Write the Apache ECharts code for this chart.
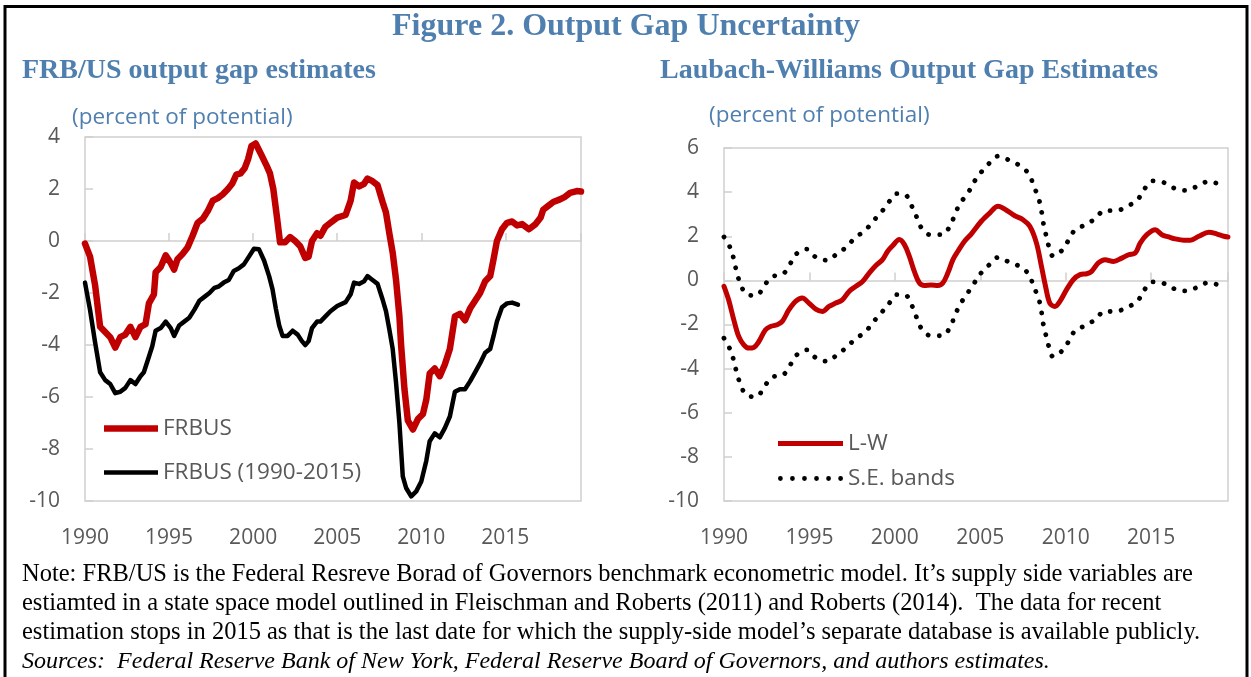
<!DOCTYPE html>
<html><head><meta charset="utf-8">
<script src="https://cdn.jsdelivr.net/npm/echarts@6/dist/echarts.min.js"></script>
<style>html,body{margin:0;padding:0;background:#fff;}#c{width:1251px;height:677px;}</style>
</head><body><div id="c"></div>
<script>
// ---- data ----
const xTicks = [1990, 1995, 2000, 2005, 2010, 2015];
const leftYTicks = [-10, -8, -6, -4, -2, 0, 2, 4];
const rightYTicks = [-10, -8, -6, -4, -2, 0, 2, 4, 6];

const frbus = [[1990.0,-0.1],[1990.3,-0.6],[1990.6,-1.7],[1990.9,-3.3],[1991.2,-3.5],[1991.5,-3.7],[1991.8,-4.1],[1992.1,-3.7],[1992.4,-3.6],[1992.7,-3.3],[1993.0,-3.7],[1993.3,-3.3],[1993.6,-3.2],[1993.8,-2.4],[1994.1,-2.05],[1994.2,-1.2],[1994.5,-1.0],[1994.8,-0.55],[1995.1,-0.85],[1995.3,-1.1],[1995.5,-0.7],[1995.8,-0.5],[1996.1,-0.25],[1996.4,0.2],[1996.7,0.7],[1997.0,0.85],[1997.3,1.15],[1997.6,1.55],[1997.9,1.65],[1998.2,1.8],[1998.5,2.0],[1998.75,2.2],[1999.0,2.55],[1999.25,2.6],[1999.5,2.8],[1999.7,3.15],[1999.9,3.65],[2000.15,3.75],[2000.5,3.3],[2000.8,2.9],[2001.0,2.6],[2001.2,2.0],[2001.4,1.0],[2001.6,-0.05],[2001.9,-0.05],[2002.2,0.15],[2002.5,0.0],[2002.8,-0.2],[2003.1,-0.65],[2003.3,-0.6],[2003.5,0.0],[2003.8,0.3],[2004.0,0.2],[2004.3,0.55],[2004.6,0.7],[2005.0,0.9],[2005.5,1.0],[2005.8,1.55],[2006.0,2.25],[2006.3,2.1],[2006.6,2.2],[2006.8,2.4],[2007.1,2.3],[2007.4,2.15],[2007.7,1.5],[2007.9,1.1],[2008.1,0.3],[2008.3,-0.45],[2008.5,-1.5],[2008.7,-2.9],[2008.8,-4.0],[2009.0,-5.7],[2009.2,-6.9],[2009.5,-7.25],[2009.8,-6.85],[2010.1,-6.65],[2010.3,-6.1],[2010.5,-5.1],[2010.8,-4.9],[2011.1,-5.2],[2011.4,-4.75],[2011.7,-4.15],[2012.0,-2.9],[2012.3,-2.8],[2012.6,-3.05],[2012.9,-2.6],[2013.2,-2.3],[2013.5,-2.0],[2013.8,-1.55],[2014.1,-1.35],[2014.3,-0.7],[2014.5,0.0],[2014.8,0.45],[2015.1,0.7],[2015.4,0.75],[2015.7,0.6],[2016.0,0.65],[2016.4,0.45],[2016.8,0.65],[2017.1,0.9],[2017.25,1.2],[2017.55,1.35],[2017.85,1.5],[2018.25,1.6],[2018.55,1.7],[2018.85,1.85],[2019.25,1.92],[2019.5,1.9]];

const frbus9015 = [[1990.0,-1.6],[1990.3,-2.65],[1990.6,-3.9],[1990.9,-5.05],[1991.2,-5.35],[1991.5,-5.5],[1991.8,-5.85],[1992.1,-5.8],[1992.4,-5.65],[1992.7,-5.35],[1993.0,-5.5],[1993.3,-5.2],[1993.5,-5.05],[1993.8,-4.45],[1994.0,-4.05],[1994.2,-3.45],[1994.5,-3.35],[1994.8,-3.1],[1995.1,-3.35],[1995.3,-3.65],[1995.6,-3.25],[1995.9,-3.1],[1996.2,-2.95],[1996.5,-2.65],[1996.8,-2.3],[1997.1,-2.15],[1997.4,-2.0],[1997.7,-1.8],[1997.95,-1.75],[1998.25,-1.6],[1998.55,-1.5],[1998.85,-1.15],[1999.15,-1.05],[1999.45,-0.9],[1999.75,-0.6],[2000.05,-0.3],[2000.35,-0.32],[2000.65,-0.75],[2000.95,-1.35],[2001.15,-1.85],[2001.35,-2.6],[2001.55,-3.25],[2001.75,-3.65],[2002.05,-3.65],[2002.35,-3.45],[2002.65,-3.6],[2002.9,-3.85],[2003.1,-4.0],[2003.3,-3.85],[2003.5,-3.35],[2003.8,-3.1],[2004.0,-3.1],[2004.3,-2.9],[2004.6,-2.7],[2005.0,-2.5],[2005.5,-2.35],[2005.8,-2.05],[2006.0,-1.6],[2006.3,-1.65],[2006.6,-1.55],[2006.8,-1.35],[2007.1,-1.5],[2007.4,-1.65],[2007.7,-2.25],[2007.9,-2.7],[2008.1,-3.4],[2008.3,-4.15],[2008.5,-5.45],[2008.7,-7.0],[2008.9,-9.05],[2009.1,-9.5],[2009.4,-9.82],[2009.7,-9.63],[2010.0,-9.25],[2010.3,-8.45],[2010.5,-7.7],[2010.8,-7.4],[2011.1,-7.55],[2011.4,-7.2],[2011.7,-6.75],[2012.0,-5.8],[2012.3,-5.7],[2012.6,-5.7],[2012.9,-5.4],[2013.2,-5.05],[2013.5,-4.7],[2013.8,-4.3],[2014.1,-4.15],[2014.3,-3.65],[2014.5,-3.1],[2014.8,-2.55],[2015.1,-2.4],[2015.4,-2.37],[2015.75,-2.45]];

const lw = [[1990.0,-0.27],[1990.27,-0.88],[1990.57,-1.78],[1990.86,-2.54],[1991.16,-2.92],[1991.45,-3.07],[1991.74,-3.04],[1992.04,-2.77],[1992.43,-2.24],[1992.72,-2.09],[1993.11,-2.01],[1993.41,-1.86],[1993.8,-1.33],[1994.19,-0.95],[1994.58,-0.8],[1994.97,-1.03],[1995.37,-1.3],[1995.76,-1.41],[1996.15,-1.18],[1996.54,-1.03],[1996.93,-0.88],[1997.32,-0.5],[1997.72,-0.27],[1998.11,-0.05],[1998.5,0.33],[1998.89,0.67],[1999.28,0.94],[1999.58,1.32],[1999.87,1.57],[2000.26,1.85],[2000.56,1.62],[2000.85,1.09],[2001.14,0.41],[2001.44,-0.12],[2001.73,-0.23],[2002.12,-0.21],[2002.52,-0.23],[2002.81,-0.12],[2003.1,0.33],[2003.4,0.94],[2003.69,1.32],[2004.08,1.77],[2004.47,2.1],[2005.06,2.68],[2005.55,3.05],[2006.04,3.36],[2006.53,3.18],[2007.02,2.93],[2007.5,2.75],[2007.9,2.45],[2008.29,1.69],[2008.58,0.64],[2008.82,-0.27],[2009.07,-1.03],[2009.37,-1.18],[2009.66,-0.95],[2010.05,-0.42],[2010.44,0.03],[2010.84,0.26],[2011.23,0.3],[2011.52,0.41],[2011.91,0.79],[2012.3,0.94],[2012.8,0.86],[2013.28,1.01],[2013.68,1.16],[2014.07,1.24],[2014.36,1.69],[2014.75,2.07],[2015.24,2.3],[2015.63,2.07],[2016.03,1.97],[2016.42,1.88],[2016.91,1.82],[2017.3,1.82],[2017.79,2.0],[2018.38,2.18],[2018.86,2.1],[2019.26,2.0],[2019.5,1.97]];

const seUpper = [[1990.0,1.97],[1990.37,1.47],[1990.57,0.97],[1990.74,0.38],[1990.96,-0.15],[1991.31,-0.62],[1991.9,-0.69],[1992.33,-0.27],[1992.78,0.15],[1993.47,0.3],[1993.88,0.76],[1994.25,1.21],[1994.84,1.42],[1995.39,1.04],[1996.05,0.91],[1996.62,1.21],[1997.17,1.51],[1997.68,1.94],[1998.25,2.25],[1998.72,2.68],[1999.2,3.08],[1999.64,3.54],[2000.1,3.93],[2000.6,3.89],[2000.95,3.43],[2001.26,2.9],[2001.54,2.4],[2002.06,2.07],[2002.77,2.07],[2003.24,2.48],[2003.51,2.98],[2003.81,3.48],[2004.26,3.93],[2004.6,4.42],[2005.02,4.87],[2005.49,5.28],[2006.04,5.63],[2006.68,5.45],[2007.33,5.19],[2007.86,4.81],[2008.11,4.31],[2008.39,3.78],[2008.56,3.25],[2008.66,2.72],[2008.82,2.15],[2008.99,1.6],[2009.27,1.1],[2009.78,1.36],[2010.19,1.85],[2010.56,2.3],[2011.17,2.52],[2011.74,2.81],[2012.27,3.16],[2012.95,3.16],[2013.6,3.36],[2014.18,3.63],[2014.58,4.11],[2015.07,4.51],[2015.69,4.45],[2016.32,4.19],[2017.0,4.08],[2017.69,4.26],[2018.34,4.48],[2019.02,4.37],[2019.25,4.35]];

const seLower = [[1990.0,-2.62],[1990.35,-3.12],[1990.57,-3.63],[1990.74,-4.17],[1990.96,-4.7],[1991.31,-5.2],[1991.88,-5.28],[1992.35,-4.84],[1992.78,-4.4],[1993.47,-4.28],[1993.88,-3.83],[1994.27,-3.37],[1994.86,-3.15],[1995.39,-3.52],[1996.05,-3.67],[1996.62,-3.37],[1997.17,-3.04],[1997.68,-2.66],[1998.27,-2.34],[1998.72,-1.9],[1999.2,-1.48],[1999.64,-1.07],[2000.1,-0.65],[2000.6,-0.66],[2000.99,-1.13],[2001.26,-1.66],[2001.54,-2.16],[2002.06,-2.5],[2002.77,-2.51],[2003.24,-2.12],[2003.51,-1.6],[2003.81,-1.1],[2004.22,-0.62],[2004.6,-0.18],[2005.0,0.29],[2005.49,0.68],[2006.04,1.04],[2006.68,0.83],[2007.33,0.62],[2007.86,0.26],[2008.11,-0.26],[2008.39,-0.76],[2008.56,-1.31],[2008.66,-1.87],[2008.82,-2.41],[2008.99,-2.94],[2009.27,-3.46],[2009.78,-3.2],[2010.19,-2.75],[2010.56,-2.27],[2011.17,-2.04],[2011.74,-1.77],[2012.27,-1.41],[2012.93,-1.41],[2013.6,-1.21],[2014.18,-0.97],[2014.56,-0.48],[2015.07,-0.07],[2015.69,-0.12],[2016.32,-0.37],[2017.0,-0.48],[2017.69,-0.32],[2018.34,-0.1],[2019.02,-0.2],[2019.25,-0.2]];

// ---- styling ----
const BLUE = '#4f7fae', GREY = '#595959', AXIS = '#d0d0d0';
const SANS = '"Open Sans", "Noto Sans", sans-serif';
const SERIF = '"Liberation Serif", "Times New Roman", serif';
const X_MIN = 1990, X_MAX = 2019.5;

// legend icon shapes
function barIcon(w, h) { return 'path://M0,0h' + w + 'v' + h + 'h-' + w + 'z'; }
function dotsIcon(n, r, w) {
  const step = (w - 2 * r) / (n - 1); let p = 'path://';
  for (let i = 0; i < n; i++) {
    const cx = r + i * step;
    p += 'M' + (cx - r) + ',' + r + 'a' + r + ',' + r + ' 0 1,0 ' + (2 * r) + ',0a' + r + ',' + r + ' 0 1,0 ' + (-2 * r) + ',0z';
  }
  return p;
}

function xPair(gridIndex) {
  return [
    { type: 'value', gridIndex, min: X_MIN, max: X_MAX, interval: 5,
      axisLine: { show: true, onZero: true, lineStyle: { color: AXIS, width: 1.5 } },
      axisTick: { show: true, inside: true, length: 8, lineStyle: { color: AXIS, width: 1.5 } },
      axisLabel: { show: false }, splitLine: { show: false } },
    { type: 'value', gridIndex, min: X_MIN, max: X_MAX, interval: 5, position: 'bottom',
      axisLine: { show: false, onZero: false }, axisTick: { show: false }, splitLine: { show: false },
      axisLabel: { show: true, margin: 27, color: GREY, fontFamily: SANS, fontSize: 21,
        showMaxLabel: false, formatter: v => xTicks.indexOf(v) >= 0 ? String(v) : '' } }
  ];
}
function yAxis(gridIndex, ticks) {
  return { type: 'value', gridIndex, min: ticks[0], max: ticks[ticks.length - 1], interval: 2,
    axisLine: { show: false }, splitLine: { show: false },
    axisTick: { show: true, inside: true, length: 8, lineStyle: { color: AXIS, width: 1.5 } },
    axisLabel: { margin: 25, color: GREY, fontFamily: SANS, fontSize: 21 } };
}

function txt(x, y, text, font, fill, align) {
  return { type: 'text', x, y, silent: true,
    style: { text, font, fill, textAlign: align || 'left', textVerticalAlign: 'middle' } };
}

const chart = echarts.init(document.getElementById('c'), null, { renderer: 'canvas' });
chart.setOption({
  animation: false,
  backgroundColor: '#fff',
  grid: [
    { left: 85, top: 137, width: 496, height: 364, show: true, borderColor: AXIS, borderWidth: 1.5, backgroundColor: '#fff' },
    { left: 724, top: 148, width: 504, height: 353, show: true, borderColor: AXIS, borderWidth: 1.5, backgroundColor: '#fff' }
  ],
  xAxis: [...xPair(0), ...xPair(1)],
  yAxis: [yAxis(0, leftYTicks), yAxis(1, rightYTicks)],
  legend: [
    { left: 104, top: 417, orient: 'vertical', itemWidth: 54, itemHeight: 8, itemGap: 21, padding: 0,
      symbolKeepAspect: true,
      textStyle: { color: GREY, fontFamily: SANS, fontSize: 22.5 }, selectedMode: false,
      data: [{ name: 'FRBUS', icon: barIcon(54, 6.5) }, { name: 'FRBUS (1990-2015)', icon: barIcon(54, 4.5) }] },
    { left: 778, top: 432, orient: 'vertical', itemWidth: 65, itemHeight: 8, itemGap: 12, padding: 0,
      symbolKeepAspect: true,
      textStyle: { color: GREY, fontFamily: SANS, fontSize: 22.5 }, selectedMode: false,
      data: [{ name: 'L-W', icon: barIcon(65, 5) }, { name: 'S.E. bands', icon: dotsIcon(6, 2.4, 65) }] }
  ],
  series: [
    { name: 'FRBUS', type: 'line', xAxisIndex: 0, yAxisIndex: 0, data: frbus, symbol: 'none',
      lineStyle: { color: '#c00000', width: 6.5, cap: 'round', join: 'round' }, itemStyle: { color: '#c00000' }, z: 3 },
    { name: 'FRBUS (1990-2015)', type: 'line', xAxisIndex: 0, yAxisIndex: 0, data: frbus9015, symbol: 'none',
      lineStyle: { color: '#000', width: 4.5, cap: 'round', join: 'round' }, itemStyle: { color: '#000' }, z: 2 },
    { name: 'L-W', type: 'line', xAxisIndex: 2, yAxisIndex: 1, data: lw, symbol: 'none', smooth: 0.35,
      lineStyle: { color: '#c00000', width: 5, cap: 'round', join: 'round' }, itemStyle: { color: '#c00000' }, z: 3 },
    { name: 'S.E. bands', type: 'line', xAxisIndex: 2, yAxisIndex: 1, data: seUpper, symbol: 'none', smooth: 0.35,
      lineStyle: { color: '#000', width: 4.8, type: [0.1, 11], cap: 'round' }, itemStyle: { color: '#000' }, z: 2 },
    { name: 'S.E. bands', type: 'line', xAxisIndex: 2, yAxisIndex: 1, data: seLower, symbol: 'none', smooth: 0.35,
      lineStyle: { color: '#000', width: 4.8, type: [0.1, 11], cap: 'round' }, itemStyle: { color: '#000' }, z: 2 }
  ],
  graphic: [
    { type: 'rect', silent: true, shape: { x: 5, y: 6.5, width: 1242, height: 700 },
      style: { fill: null, stroke: '#000', lineWidth: 3 }, z: 100 },
    txt(626, 27, 'Figure 2. Output Gap Uncertainty', 'bold 32px ' + SERIF, BLUE, 'center'),
    txt(22, 71, 'FRB/US output gap estimates', 'bold 28px ' + SERIF, BLUE),
    txt(660, 71, 'Laubach-Williams Output Gap Estimates', 'bold 28px ' + SERIF, BLUE),
    txt(72, 118, '(percent of potential)', '22.5px ' + SANS, BLUE),
    txt(709, 116, '(percent of potential)', '22.5px ' + SANS, BLUE),
    txt(22, 575, 'Note: FRB/US is the Federal Resreve Borad of Governors benchmark econometric model. It\u2019s supply side variables are', '24.5px ' + SERIF, '#000'),
    txt(22, 604, 'estiamted in a state space model outlined in Fleischman and Roberts (2011) and Roberts (2014).  The data for recent', '24.5px ' + SERIF, '#000'),
    txt(22, 633, 'estimation stops in 2015 as that is the last date for which the supply-side model\u2019s separate database is available publicly.', '24.5px ' + SERIF, '#000'),
    txt(22, 662, 'Sources:  Federal Reserve Bank of New York, Federal Reserve Board of Governors, and authors estimates.', 'italic 24px ' + SERIF, '#000')
  ]
});
</script></body></html>
